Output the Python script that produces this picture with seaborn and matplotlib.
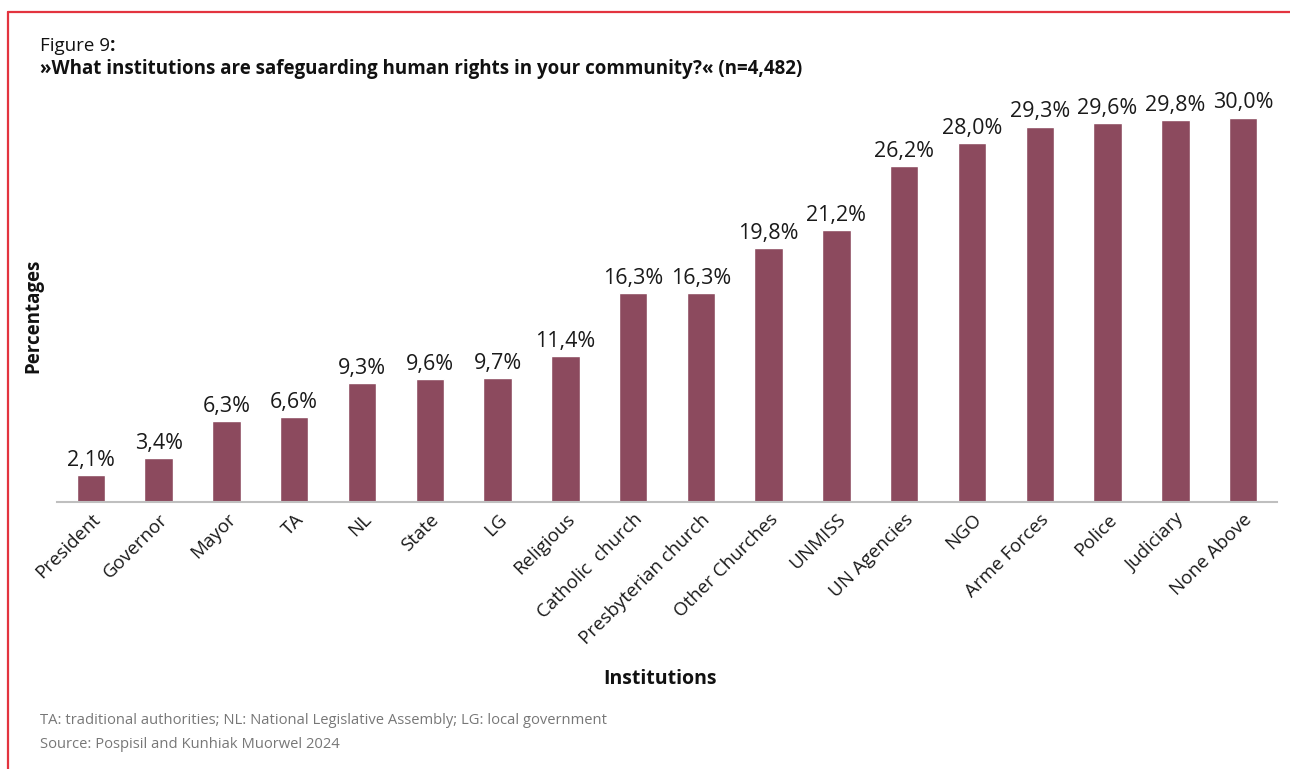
import matplotlib
matplotlib.use("Agg")
import matplotlib.pyplot as plt
from matplotlib.lines import Line2D
import seaborn as sns
import pandas as pd

institutions = ["President", "Governor", "Mayor", "TA", "NL", "State", "LG", "Religious",
                "Catholic  church", "Presbyterian church", "Other Churches", "UNMISS",
                "UN Agencies", "NGO", "Arme Forces", "Police", "Judiciary", "None Above"]
percentages = [2.1, 3.4, 6.3, 6.6, 9.3, 9.6, 9.7, 11.4,
               16.3, 16.3, 19.8, 21.2,
               26.2, 28.0, 29.3, 29.6, 29.8, 30.0]

title_prefix = "Figure 9"
title_main = "\u00bbWhat institutions are safeguarding human rights in your community?\u00ab (n=4,482)"
x_label = "Institutions"
y_label = "Percentages"
footnote = "TA: traditional authorities; NL: National Legislative Assembly; LG: local government"
source = "Source: Pospisil and Kunhiak Muorwel 2024"

df = pd.DataFrame({"institution": institutions, "pct": percentages})

sns.set_theme(style="white")
plt.rcParams["font.family"] = ["Open Sans", "DejaVu Sans"]

W, H = 1290, 769
fig = plt.figure(figsize=(W / 100, H / 100), dpi=100)
ax = fig.add_axes([57 / W, (H - 502) / H, (1277 - 57) / W, (502 - 92) / H])

bar_color = "#8c4a5e"
sns.barplot(data=df, x="institution", y="pct", color=bar_color, saturation=1,
            width=0.42, ax=ax)

ax.set_xlim(-0.5, len(institutions) - 0.5)
ax.set_ylim(0, 32)

labels = [f"{v:.1f}%".replace(".", ",") for v in percentages]
ax.bar_label(ax.containers[0], labels=labels, padding=3, fontsize=15.5, color="#1a1a1a")

for side in ["top", "right", "left"]:
    ax.spines[side].set_visible(False)
ax.spines["bottom"].set_color("#bfbfbf")
ax.spines["bottom"].set_linewidth(1.5)
ax.set_yticks([])
ax.tick_params(axis="x", length=0, pad=6)
ax.set_xticks(range(len(institutions)))
ax.set_xticklabels(institutions, rotation=45, ha="right", rotation_mode="anchor",
                   fontsize=13.5, color="#1a1a1a")
ax.set_xlabel("")
ax.set_ylabel("")

fig.text(660 / W, 1 - 679 / H, x_label, ha="center", va="center",
         fontsize=14, fontweight="bold", color="#111111")
fig.text(33 / W, 1 - 316 / H, y_label, ha="center", va="center", rotation=90,
         fontsize=13.5, fontweight="bold", color="#111111")

# Title: regular prefix followed by a bold colon, then the bold question
t1 = fig.text(40 / W, 1 - 46 / H, title_prefix, ha="left", va="center",
              fontsize=13.5, color="#111111")
fig.canvas.draw()
bb = t1.get_window_extent(renderer=fig.canvas.get_renderer())
fig.text(bb.x1 / W, 1 - 46 / H, ":", ha="left", va="center",
         fontsize=13.5, fontweight="bold", color="#111111")
fig.text(40 / W, 1 - 69 / H, title_main, ha="left", va="center",
         fontsize=13.5, fontweight="bold", color="#111111")

fig.text(40 / W, 1 - 720 / H, footnote, ha="left", va="center",
         fontsize=10.6, color="#777777")
fig.text(40 / W, 1 - 745 / H, source, ha="left", va="center",
         fontsize=10.6, color="#777777")

# Red frame along the top and left edges
frame_color = "#e3343f"
fig.add_artist(Line2D([8 / W, 1.0], [1 - 12 / H, 1 - 12 / H], transform=fig.transFigure,
                      color=frame_color, linewidth=1.6))
fig.add_artist(Line2D([8 / W, 8 / W], [0.0, 1 - 12 / H], transform=fig.transFigure,
                      color=frame_color, linewidth=1.6))

fig.savefig("out.png", dpi=100, facecolor="white")
